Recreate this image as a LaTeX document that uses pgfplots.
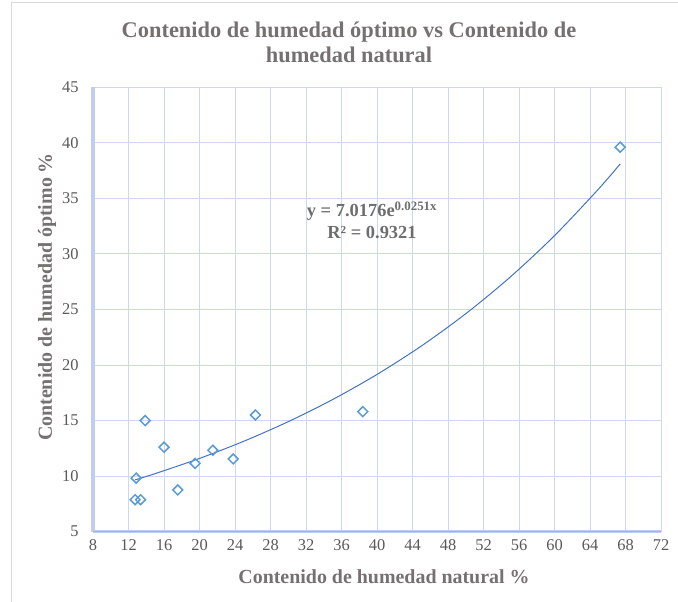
\documentclass[border=0pt]{standalone}
\usepackage{pgfplots}
\pgfplotsset{compat=1.18}
\usepackage{fontspec}
\setmainfont{Liberation Serif}
\definecolor{titlegray}{RGB}{118,113,113}
\definecolor{tickgray}{RGB}{89,89,89}
\definecolor{eqgray}{RGB}{110,110,110}
\definecolor{gridblue}{RGB}{205,216,240}
\definecolor{markblue}{RGB}{91,155,213}
\definecolor{lineblue}{RGB}{68,114,196}
\definecolor{glowblue}{RGB}{190,206,240}
\definecolor{framegray}{RGB}{217,217,217}
\begin{document}
\begin{tikzpicture}[x=1bp,y=1bp]
\useasboundingbox (0,0) rectangle (678,602);
\draw[framegray, line width=1bp] (11,0) -- (11,599) -- (678,599);
\begin{axis}[
  at={(93bp,70.3bp)}, anchor=south west,
  scale only axis, width=568bp, height=444.5bp,
  xmin=8, xmax=72, ymin=5, ymax=45,
  xtick={8,12,...,72}, ytick={5,10,...,45},
  major tick length=0pt,
  grid=major,
  major grid style={gridblue, line width=0.8bp},
  axis line style={draw=none},
  /pgf/number format/assume math mode=true,
  ticklabel style={font=\fontsize{16.5}{19}\selectfont, text=tickgray},
  xticklabel style={yshift=-4bp},
  yticklabel style={xshift=-11bp},
  clip=false,
]
\draw[glowblue, line width=3.5bp] (axis cs:8,5) -- (axis cs:8,45);
\draw[glowblue, line width=3bp] (axis cs:8,5) -- (axis cs:72,5);
\draw[gray!60, line width=1bp] (axis cs:8,5) -- (axis cs:72,5);
\addplot[only marks, mark=square, mark size=3.5bp,
  mark options={rotate=45, draw=markblue, fill=white, line width=1.5bp}]
  coordinates {
  (13.88,15.0) (16.0,12.6) (12.86,9.82) (12.75,7.88) (13.36,7.88)
  (17.55,8.76) (19.5,11.15) (21.5,12.33) (23.8,11.55) (26.3,15.5)
  (38.4,15.8) (67.4,39.6)
  };
\addplot[lineblue, line width=1bp, smooth, mark=none]
  coordinates {
  (12.75,9.664) (15,10.226) (20,11.593) (25,13.143) (30,14.901)
  (35,16.893) (40,19.152) (45,21.713) (50,24.617) (55,27.908)
  (60,31.640) (65,35.871) (67.4,38.098)
  };
\end{axis}
\node[text=titlegray, font=\fontsize{22.5}{25}\selectfont\bfseries, align=center] at (349,560)
  {Contenido de humedad óptimo vs Contenido de\\humedad natural};
\node[text=titlegray, font=\fontsize{20}{22}\selectfont\bfseries] at (384,25)
  {Contenido de humedad natural \%};
\node[text=titlegray, font=\fontsize{20}{22}\selectfont\bfseries, rotate=90] at (47,305)
  {Contenido de humedad óptimo \%};
\node[text=eqgray, font=\fontsize{18.5}{22}\selectfont\bfseries, align=center] at (372,382)
  {y = 7.0176e\textsuperscript{0.0251x}\\R² = 0.9321};
\end{tikzpicture}
\end{document}
